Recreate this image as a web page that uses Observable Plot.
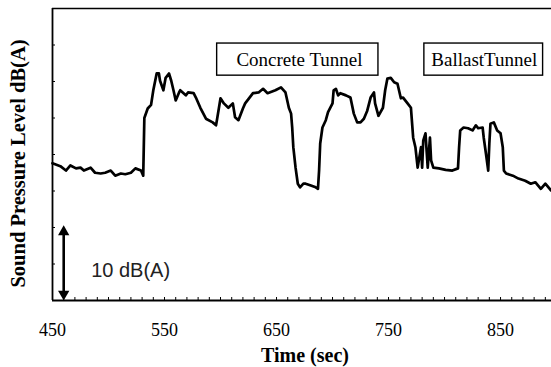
<!DOCTYPE html>
<html>
<head>
<meta charset="utf-8">
<script src="https://cdn.jsdelivr.net/npm/d3@7"></script>
<script src="https://cdn.jsdelivr.net/npm/@observablehq/plot@0.6"></script>
<style>
  html, body { margin: 0; padding: 0; background: #fff; }
  #chart svg { display: block; }
</style>
</head>
<body>
<div id="chart"></div>
<script>
// Time (sec)
const time = [450,457,462,466,471,475,478,484,488,493,497,502,506,511,515,520,524,529,531,
  532,535,538,540,543,545,546,549,551,554,556,558,560,563,564,569,571,576,578,582,587,593,596,597,
  600,603,607,611,613,616,620,622,629,634,638,642,649,654,658,661,663,664,665,667,669,671,674,676,
  680,685,687,688,689,691,694,696,700,701,703,705,707,712,716,719,722,725,728,731,734,737,738,741,
  745,747,749,752,755,758,761,763,767,770,772,774,776,779,780,781,783,785,787,788,790,795,801,807,
  812,813,814,817,821,825,828,830,834,835,837,839,840,841,844,847,850,852,853,855,861,866,872,877,
  881,886,890,895];
// Sound pressure level dB(A) (relative scale; 5 dB per tick)
const level = [68.8,68.4,67.8,68.5,68.1,68.2,67.8,68.2,67.5,67.4,67.5,67.8,67.1,67.4,67.3,67.5,68.1,67.8,67.1,
  75.0,76.3,76.8,78.8,81.1,81.1,80.1,78.8,80.5,81.1,80.1,78.8,77.4,78.5,78.8,78.1,78.5,78.4,77.8,76.4,74.9,74.4,74.0,74.9,
  77.7,77.0,76.4,77.0,75.1,74.7,76.3,77.0,78.4,78.5,79.0,78.4,78.8,79.2,78.5,76.4,75.6,73.7,71.0,68.2,66.0,65.5,66.0,66.0,
  65.8,65.5,65.3,67.8,71.5,73.7,74.7,75.8,77.0,78.8,79.0,78.1,78.4,78.1,77.8,75.6,74.4,74.4,74.9,76.0,77.8,78.5,77.0,75.3,
  76.4,78.8,80.4,80.5,79.9,79.7,77.7,77.8,77.0,76.4,72.3,71.0,68.2,71.0,68.2,71.9,72.9,68.2,72.3,69.2,68.2,68.1,67.9,67.8,
  68.1,71.0,73.3,73.7,73.6,73.3,74.0,73.6,73.7,72.3,70.1,67.8,71.5,74.2,74.4,73.3,72.9,71.0,67.8,67.4,67.1,66.7,66.4,66.0,
  66.2,65.3,66.0,65.1];

const xDomain = [450, 895.5];
const yDomain = [50, 90];
const xMinorTicks = d3.range(450, 896, 10);
const xTickLabels = [450, 550, 650, 750, 850];
const yTicks = d3.range(50, 91, 5);

// annotation boxes
const boxLabels = ["Concrete Tunnel", "BallastTunnel"];
const boxX1 = [597, 782];
const boxX2 = [741, 888];
const boxY1 = [80.8, 80.8];
const boxY2 = [85.2, 85.2];
const boxTextX = [670.5, 835.5];
const boxTextY = [82.9, 82.9];

// scale bar (10 dB)
const scaleBarX = 460;
const scaleBarY1 = 50.9;
const scaleBarY2 = 59.4;
const scaleBarLabel = "10 dB(A)";
const scaleBarLabelX = 484.5;
const scaleBarLabelY = 54.1;

const series = time.map((t, i) => ({t, v: level[i]}));
const boxes = boxLabels.map((label, i) => ({label, x1: boxX1[i], x2: boxX2[i], y1: boxY1[i], y2: boxY2[i], tx: boxTextX[i], ty: boxTextY[i]}));
const heads = [{x: scaleBarX, y: scaleBarY2, r: 0}, {x: scaleBarX, y: scaleBarY1, r: 180}];

const serif = "'Liberation Serif', 'Times New Roman', serif";

const chart = Plot.plot({
  width: 551,
  height: 367,
  marginLeft: 52,
  marginRight: 0,
  marginTop: 8,
  marginBottom: 67,
  style: {fontFamily: serif, background: "#fff", color: "#000"},
  x: {domain: xDomain},
  y: {domain: yDomain},
  marks: [
    Plot.axisX({ticks: xMinorTicks, tickSize: -3, tickFormat: () => "", label: null, strokeWidth: 1}),
    Plot.axisX({ticks: xTickLabels, tickSize: 0, tickPadding: 23, tickFormat: d => String(d), fontSize: 18, label: null}),
    Plot.axisY({ticks: yTicks, tickSize: -3, tickFormat: () => "", label: null, strokeWidth: 1}),
    Plot.ruleY([yDomain[1]], {strokeWidth: 1.5}),
    Plot.ruleY([yDomain[0]], {strokeWidth: 1.8}),
    Plot.ruleX([xDomain[0]], {strokeWidth: 1.8}),
    Plot.line(series, {x: "t", y: "v", stroke: "#000", strokeWidth: 2.7, strokeLinejoin: "round"}),
    Plot.rect(boxes, {x1: "x1", x2: "x2", y1: "y1", y2: "y2", fill: "#fff", stroke: "#000", strokeWidth: 1.4}),
    Plot.text(boxes, {x: "tx", y: "ty", text: "label", fontSize: 19, fill: "#000"}),
    // scale bar: shaft + solid triangular heads
    Plot.ruleX([scaleBarX], {y1: scaleBarY1, y2: scaleBarY2, stroke: "#000", strokeWidth: 2.6}),
    Plot.dot(heads, {x: "x", y: "y", rotate: "r", symbol: "triangle", r: 4.2, fill: "#000", stroke: "none"}),
    Plot.text([scaleBarLabel], {x: scaleBarLabelX, y: scaleBarLabelY, text: d => d, textAnchor: "start", fontSize: 20, fontFamily: "'Liberation Sans', Arial, sans-serif", fill: "#222"}),
    Plot.text(["Time (sec)"], {frameAnchor: "bottom", dy: 55, dx: 3, lineAnchor: "middle", text: d => d, fontSize: 20, fontWeight: "bold", fill: "#000"}),
    Plot.text(["Sound Pressure Level dB(A)"], {frameAnchor: "left", dx: -34, dy: 9, rotate: -90, textAnchor: "middle", lineAnchor: "middle", text: d => d, fontSize: 20.5, fontWeight: "bold", fill: "#000"})
  ]
});
document.getElementById("chart").appendChild(chart);
</script>
</body>
</html>
